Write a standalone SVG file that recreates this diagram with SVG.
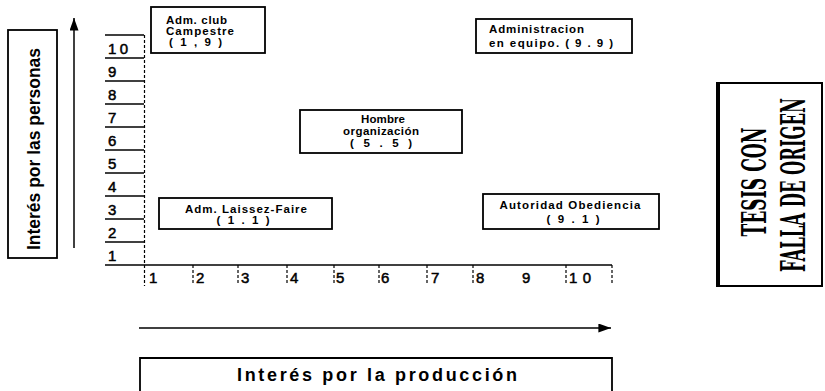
<svg xmlns="http://www.w3.org/2000/svg" width="825" height="391" viewBox="0 0 825 391">
<style>
.bg{fill:#fff}
.box{fill:#fff;stroke:#000;stroke-width:1.8}
.ln{stroke:#000;stroke-width:1.5;fill:none}
.dash{stroke:#000;stroke-width:1.2;stroke-dasharray:3 2;fill:none}
.lbl{font-family:"Liberation Sans",Arial,sans-serif;font-size:11.5px;font-weight:bold;fill:#000}
.num{font-family:"Liberation Sans",Arial,sans-serif;font-size:15px;fill:#000;stroke:#000;stroke-width:0.5}
.axis{font-family:"Liberation Sans",Arial,sans-serif;font-weight:bold;fill:#000}
.stamp{font-family:"DejaVu Serif","Liberation Serif",serif;font-weight:bold;font-size:34px;fill:#000}
</style>
<defs>
<marker id="ah2" viewBox="0 0 14 10" refX="14" refY="5" markerWidth="14" markerHeight="9" markerUnits="userSpaceOnUse" orient="auto">
<path d="M0,0 L14,5 L0,10 z" fill="#000"/>
</marker>
</defs>
<rect class="bg" x="0" y="0" width="825" height="391"/>

<g id="y-axis-label">
<rect class="box" x="8" y="30" width="49" height="228"/>
<text class="axis" font-size="18" text-anchor="middle" textLength="202" lengthAdjust="spacingAndGlyphs" transform="translate(40,149) rotate(-90)">Interés por las personas</text>
</g>

<g id="connectors">
<line class="ln" x1="74" y1="248" x2="74" y2="18" marker-end="url(#ah2)"/>
<line class="ln" x1="139" y1="328" x2="611" y2="328" marker-end="url(#ah2)"/>
</g>

<g id="y-scale">
<line class="ln" x1="105" y1="35" x2="144" y2="35"/>
<line class="dash" x1="144.5" y1="35" x2="144.5" y2="286"/>
<line class="ln" x1="105" y1="58" x2="144" y2="58"/>
<line class="ln" x1="105" y1="81" x2="144" y2="81"/>
<line class="ln" x1="105" y1="104" x2="144" y2="104"/>
<line class="ln" x1="105" y1="127" x2="144" y2="127"/>
<line class="ln" x1="105" y1="150" x2="144" y2="150"/>
<line class="ln" x1="105" y1="173" x2="144" y2="173"/>
<line class="ln" x1="105" y1="196" x2="144" y2="196"/>
<line class="ln" x1="105" y1="219" x2="144" y2="219"/>
<line class="ln" x1="105" y1="242" x2="144" y2="242"/>
<text class="num" x="108" y="54" textLength="20" lengthAdjust="spacing">10</text>
<text class="num" x="108" y="77">9</text>
<text class="num" x="108" y="100">8</text>
<text class="num" x="108" y="123">7</text>
<text class="num" x="108" y="146">6</text>
<text class="num" x="108" y="169">5</text>
<text class="num" x="108" y="192">4</text>
<text class="num" x="108" y="215">3</text>
<text class="num" x="108" y="238">2</text>
<text class="num" x="108" y="261">1</text>
</g>

<g id="x-scale">
<line class="ln" x1="105" y1="265" x2="612" y2="265"/>
<line class="dash" x1="193" y1="265" x2="193" y2="285"/>
<line class="dash" x1="238" y1="265" x2="238" y2="285"/>
<line class="dash" x1="287" y1="265" x2="287" y2="285"/>
<line class="dash" x1="334" y1="265" x2="334" y2="285"/>
<line class="dash" x1="379" y1="265" x2="379" y2="285"/>
<line class="dash" x1="427" y1="265" x2="427" y2="285"/>
<line class="dash" x1="473" y1="265" x2="473" y2="285"/>
<line class="dash" x1="566" y1="265" x2="566" y2="285"/>
<line class="dash" x1="612" y1="265" x2="612" y2="285"/>
<text class="num" x="149" y="283">1</text>
<text class="num" x="196" y="283">2</text>
<text class="num" x="241" y="283">3</text>
<text class="num" x="290" y="283">4</text>
<text class="num" x="336" y="283">5</text>
<text class="num" x="381" y="283">6</text>
<text class="num" x="431" y="283">7</text>
<text class="num" x="476" y="283">8</text>
<text class="num" x="522" y="283">9</text>
<text class="num" x="569" y="283" textLength="22" lengthAdjust="spacing">10</text>
</g>

<g id="x-axis-label">
<path class="box" d="M140,395 L140,358 L612,358 L612,395"/>
<text class="axis" font-size="18" x="377" y="381" text-anchor="middle" textLength="280" lengthAdjust="spacing">Interés por  la producción</text>
</g>

<g id="node-club-campestre">
<rect class="box" x="151" y="7" width="114" height="46"/>
<text class="lbl" x="166" y="24" textLength="61" lengthAdjust="spacing">Adm. club</text>
<text class="lbl" x="166" y="35" textLength="68" lengthAdjust="spacing">Campestre</text>
<text class="lbl" x="169" y="46" textLength="53" lengthAdjust="spacing">( 1 , 9 )</text>
</g>

<g id="node-equipo">
<rect class="box" x="476" y="19" width="156" height="34"/>
<text class="lbl" x="489" y="33" textLength="95" lengthAdjust="spacing">Administracion</text>
<text class="lbl" x="489" y="47" textLength="124" lengthAdjust="spacing">en equipo. ( 9 . 9 )</text>
</g>

<g id="node-hombre">
<rect class="box" x="300" y="110" width="162" height="43"/>
<text class="lbl" x="383" y="123" text-anchor="middle" textLength="44" lengthAdjust="spacing">Hombre</text>
<text class="lbl" x="381" y="135" text-anchor="middle" textLength="76" lengthAdjust="spacing">organización</text>
<text class="lbl" x="381" y="147" text-anchor="middle" textLength="62" lengthAdjust="spacing">( 5 . 5 )</text>
</g>

<g id="node-laissez">
<rect class="box" x="159" y="198" width="173" height="31"/>
<text class="lbl" x="246" y="213" text-anchor="middle" textLength="122" lengthAdjust="spacing">Adm. Laissez-Faire</text>
<text class="lbl" x="243" y="224" text-anchor="middle" textLength="53" lengthAdjust="spacing">( 1 . 1 )</text>
</g>

<g id="node-autoridad">
<rect class="box" x="483" y="194" width="176" height="35"/>
<text class="lbl" x="570" y="209" text-anchor="middle" textLength="141" lengthAdjust="spacing">Autoridad  Obediencia</text>
<text class="lbl" x="573" y="223" text-anchor="middle" textLength="53" lengthAdjust="spacing">( 9 . 1 )</text>
</g>

<g id="stamp">
<rect x="717" y="83" width="105" height="203" fill="#fff" stroke="#000" stroke-width="2"/>
<line x1="718" y1="83" x2="718" y2="286" stroke="#000" stroke-width="4"/>
<text class="stamp" text-anchor="middle" textLength="218" lengthAdjust="spacingAndGlyphs" transform="translate(766,182) rotate(-90) scale(0.5,1)">TESIS CON</text>
<text class="stamp" text-anchor="middle" textLength="348" lengthAdjust="spacingAndGlyphs" transform="translate(805,185) rotate(-90) scale(0.5,1)">FALLA DE ORIGEN</text>
</g>
</svg>
